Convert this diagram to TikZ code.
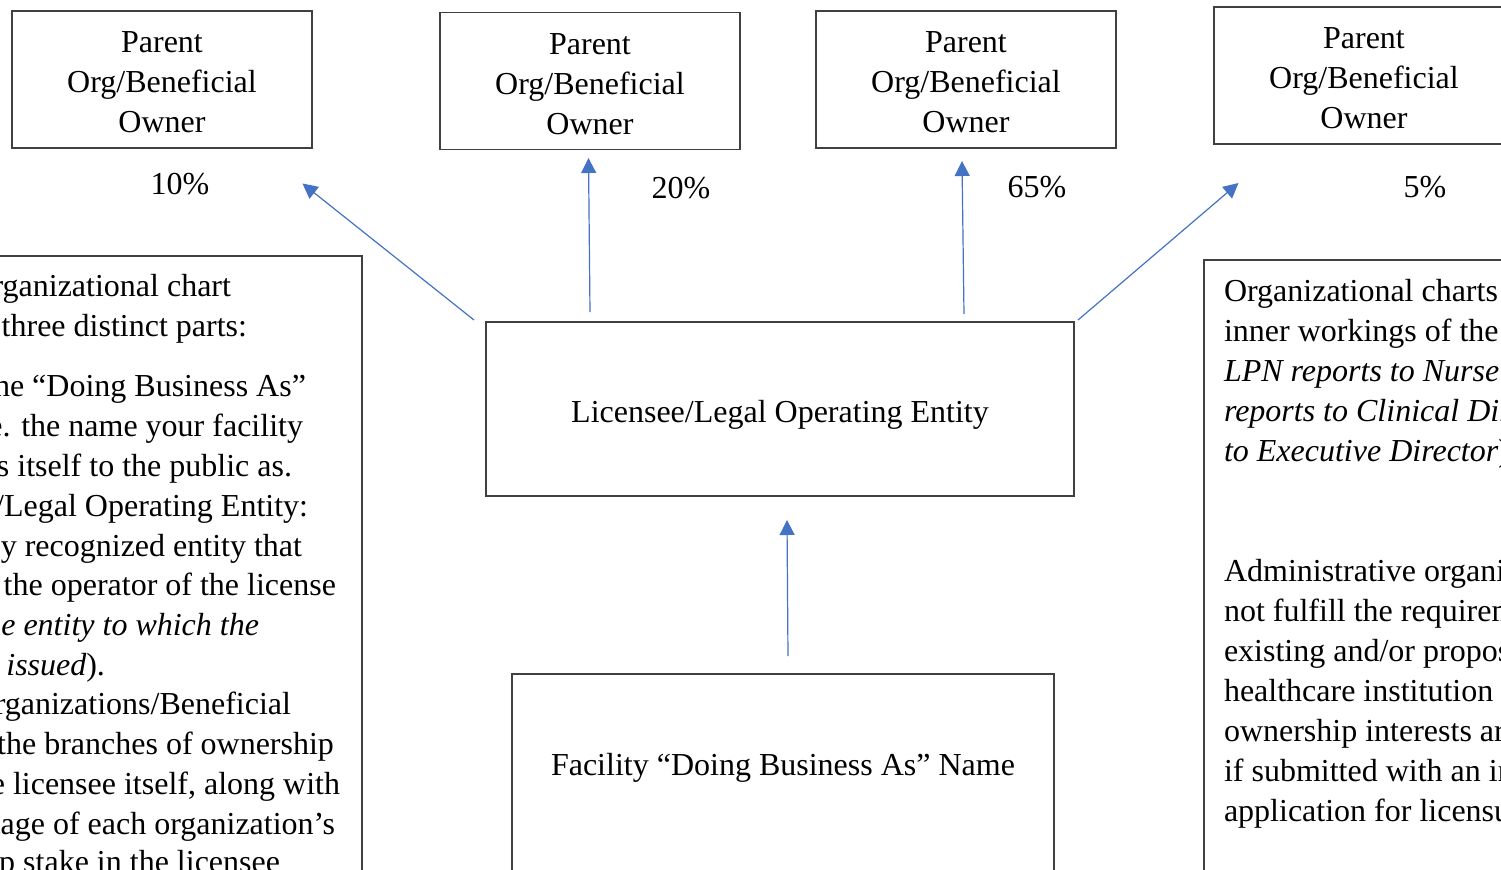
\documentclass[tikz,border=0pt]{standalone}
\usepackage{fontspec}
\setmainfont{Liberation Serif}
\usetikzlibrary{arrows.meta}
\definecolor{arrowblue}{HTML}{4472C4}
\definecolor{boxgray}{HTML}{404040}
\begin{document}
\begin{tikzpicture}[x=0.5pt,y=-0.5pt,
  txt/.style={font=\fontsize{16}{20}\selectfont, inner sep=0pt, outer sep=0pt},
  box/.style={draw=boxgray, line width=0.75pt, inner sep=0pt, outer sep=0pt},
  ownerbox/.style={box, minimum width=150pt, minimum height=68.5pt},
  ownertext/.style={txt, align=center},
  lline/.style={txt, anchor=base east},
  rline/.style={txt, anchor=base west},
  pct/.style={txt, anchor=center},
  conn/.style={arrowblue, line width=0.6pt, -{Triangle[length=7.5pt,width=7.5pt]}}]
\useasboundingbox (0,0) rectangle (1501,869);
\clip (0,0) rectangle (1501,869);
\fill[white] (0,0) rectangle (1501,869);

% owner boxes
\node[ownerbox] (p1) at (162,79.5) {};
\node[ownerbox] (p2) at (590,81) {};
\node[ownerbox] (p3) at (966,79.5) {};
\node[ownerbox] (p4) at (1364,75.5) {};
\node[ownertext] (p1t) at (162,82.5) {Parent\\Org/Beneficial\\Owner};
\node[ownertext] (p2t) at (590,84) {Parent\\Org/Beneficial\\Owner};
\node[ownertext] (p3t) at (966,82.5) {Parent\\Org/Beneficial\\Owner};
\node[ownertext] (p4t) at (1364,78.5) {Parent\\Org/Beneficial\\Owner};

% percentages
\node[pct] (q1) at (180,184) {10\%};
\node[pct] (q2) at (681,188) {20\%};
\node[pct] (q3) at (1037,187) {65\%};
\node[pct] (q4) at (1425,187) {5\%};

% central boxes
\node[box, minimum width=294pt, minimum height=87pt] (lic) at (780,409) {};
\node[txt] (lict) at (780,415) {Licensee/Legal Operating Entity};
\node[box, minimum width=271pt, minimum height=150pt] (fac) at (783,824) {};
\node[txt] (fact) at (783,768) {Facility “Doing Business As” Name};

% side boxes
\node[box, minimum width=300pt, minimum height=400pt] (lbox) at (62,656) {};
\node[box, minimum width=300pt, minimum height=400pt] (rbox) at (1504,660) {};

% left text lines
\node[lline] (l1) at (231,296.5) {Organizational chart};
\node[lline] (l2) at (247,336.5) {has three distinct parts:};
\node[lline] (l3) at (306,396.5) {the “Doing Business As”};
\node[lline] (l4) at (303,436.5) {i.e. the name your facility};
\node[lline] (l5) at (292,476.5) {presents itself to the public as.};
\node[lline] (l6) at (308,516.5) {Licensee/Legal Operating Entity:};
\node[lline] (l7) at (302,556.5) {legally recognized entity that};
\node[lline] (l8) at (336,595.5) {serves as the operator of the license};
\node[lline] (l9) at (259,635.5) {\itshape (the entity to which the};
\node[lline] (l10) at (105,675.5) {\itshape license is issued\upshape).};
\node[lline] (l11) at (291,714.5) {Parent Organizations/Beneficial};
\node[lline] (l12) at (334,754.5) {Owners: the branches of ownership};
\node[lline] (l13) at (340,794.5) {above the licensee itself, along with};
\node[lline] (l14) at (335,834.5) {percentage of each organization’s};
\node[lline] (l15) at (280,872.5) {ownership stake in the licensee};

% right text lines
\node[rline] (r1) at (1224,301) {Organizational charts depicting};
\node[rline] (r2) at (1224,341) {inner workings of the facility};
\node[rline] (r3) at (1224,381) {\itshape LPN reports to Nurse Manager};
\node[rline] (r4) at (1224,421) {\itshape reports to Clinical Director};
\node[rline] (r5) at (1224,461) {\itshape to Executive Director\upshape)};
\node[rline] (r6) at (1224,581) {Administrative organizational};
\node[rline] (r7) at (1224,621) {not fulfill the requirement};
\node[rline] (r8) at (1224,661) {existing and/or proposed};
\node[rline] (r9) at (1224,701) {healthcare institution and};
\node[rline] (r10) at (1224,741) {ownership interests are};
\node[rline] (r11) at (1224,781) {if submitted with an initial};
\node[rline] (r12) at (1224,821) {application for licensure};

% connector end points
\coordinate (s1) at (474,320); \coordinate (e1) at (302.5,183.5);
\coordinate (s2) at (590,312); \coordinate (e2) at (588.5,158);
\coordinate (s3) at (964,314); \coordinate (e3) at (962,161);
\coordinate (s4) at (1078,320); \coordinate (e4) at (1238.5,183);
\coordinate (s5) at (788,656); \coordinate (e5) at (787,520);

\draw[conn] (s1) -- (e1);
\draw[conn] (s2) -- (e2);
\draw[conn] (s3) -- (e3);
\draw[conn] (s4) -- (e4);
\draw[conn] (s5) -- (e5);
\end{tikzpicture}
\end{document}
